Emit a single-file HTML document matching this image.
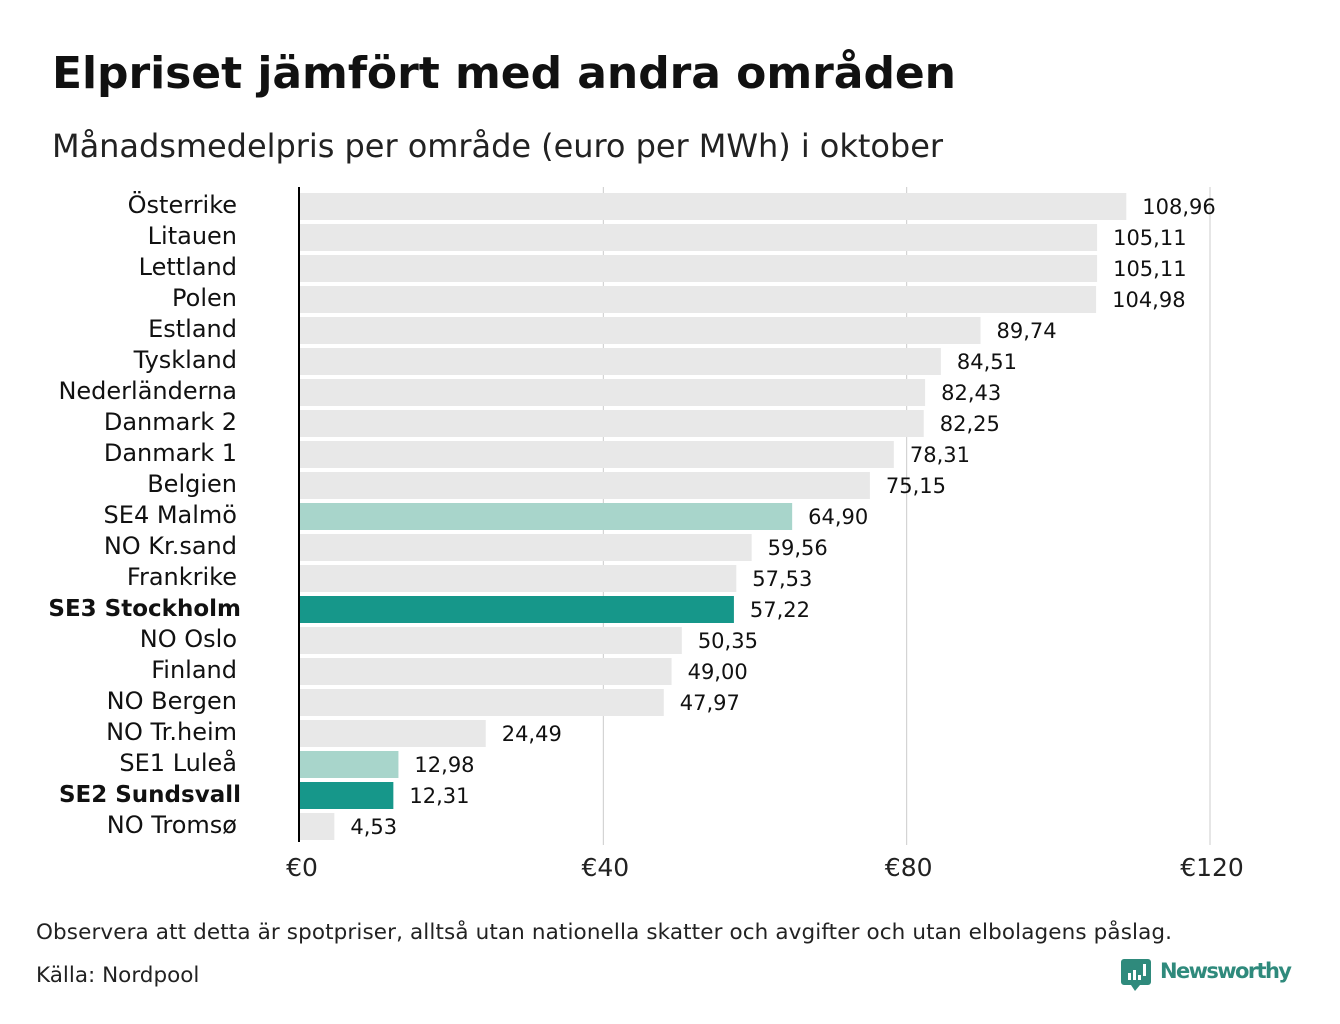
<!DOCTYPE html>
<html><head><meta charset="utf-8"><style>
body{margin:0;background:#fff;width:1340px;height:1020px;overflow:hidden;font-family:"DejaVu Sans","Liberation Sans",sans-serif;}
svg text{font-family:"DejaVu Sans","Liberation Sans",sans-serif;}
</style></head><body>
<svg id="chart" width="1340" height="1020">
<text x="52" y="88" font-size="44" font-weight="bold" fill="#111" textLength="904">Elpriset jämfört med andra områden</text>
<text x="52" y="157" font-size="32" fill="#222" textLength="891">Månadsmedelpris per område (euro per MWh) i oktober</text>
<g id="grid"></g><g id="bars"></g>
<text x="36" y="939" font-size="21.5" fill="#222" textLength="1136">Observera att detta är spotpriser, alltså utan nationella skatter och avgifter och utan elbolagens påslag.</text>
<text x="36" y="982" font-size="21.5" fill="#222">Källa: Nordpool</text>
<g>
<path d="M1124 959 h24 a3 3 0 0 1 3 3 v20 a3 3 0 0 1 -3 3 h-8 l-5 6 l-4 -6 h-7 a3 3 0 0 1 -3 -3 v-20 a3 3 0 0 1 3 -3z" fill="#2f8a7c"/>
<rect x="1128" y="973" width="3" height="7" fill="#fff"/><rect x="1133" y="970" width="3" height="10" fill="#fff"/><rect x="1138" y="975" width="3" height="5" fill="#fff"/><rect x="1143" y="964" width="3" height="12" fill="#fff"/>
<text x="1160" y="978" font-size="21" font-weight="bold" fill="#2f8a7c" textLength="132" font-family="Liberation Sans">Newsworthy</text>
</g>
</svg>
<script>
const categories=["Österrike","Litauen","Lettland","Polen","Estland","Tyskland","Nederländerna","Danmark  2","Danmark  1","Belgien","SE4  Malmö","NO Kr.sand","Frankrike","SE3 Stockholm","NO Oslo","Finland","NO Bergen","NO Tr.heim","SE1  Luleå","SE2 Sundsvall","NO Tromsø"];
const values=[108.96,105.11,105.11,104.98,89.74,84.51,82.43,82.25,78.31,75.15,64.90,59.56,57.53,57.22,50.35,49.00,47.97,24.49,12.98,12.31,4.53];
const highlight=["","","","","","","","","","","light","","","dark","","","","","light","dark",""];
const ticks=[0,40,80,120];
const NS="http://www.w3.org/2000/svg";
const x0=300,scale=(1210-300)/120;
const xs=v=>x0+v*scale;
const ys=i=>193+i*31;
function mk(t,a,p,txt){const e=document.createElementNS(NS,t);for(const k in a)e.setAttribute(k,a[k]);if(txt!==undefined)e.textContent=txt;p.appendChild(e);return e;}
const grid=document.getElementById('grid'),bars=document.getElementById('bars');
ticks.forEach(t=>{
 if(t>0){const l=mk('line',{x1:xs(t),x2:xs(t),y1:187,y2:845,stroke:'#ccc','stroke-width':1},grid);
 
 }
 const tx=mk('text',{x:xs(t)+2,y:876,'font-size':25,'text-anchor':'middle',fill:'#222'},grid,'€'+t);
 
 
});
categories.forEach((c,i)=>{
 const h=highlight[i];
 const fill=h==='dark'?'#16978a':h==='light'?'#a8d5cb':'#e8e8e8';
 const r=mk('rect',{x:x0,y:ys(i),width:xs(values[i])-x0,height:27,fill:fill},bars);
 
 
 const lab=mk('text',{x:h==='dark'?241:237,y:ys(i)+20,'font-size':h==='dark'?23:24,'text-anchor':'end',fill:'#111','font-weight':h==='dark'?'bold':'normal','font-family':h==='dark'?'Liberation Sans':'DejaVu Sans'},bars,c);
 
 
 const v=mk('text',{x:xs(values[i])+16,y:ys(i)+21,'font-size':21,fill:'#111'},bars,values[i].toFixed(2).replace('.',','));
 
 
});
const ax=mk('line',{x1:299,x2:299,y1:187,y2:842,stroke:'#000','stroke-width':2},bars);


</script>
</body></html>
